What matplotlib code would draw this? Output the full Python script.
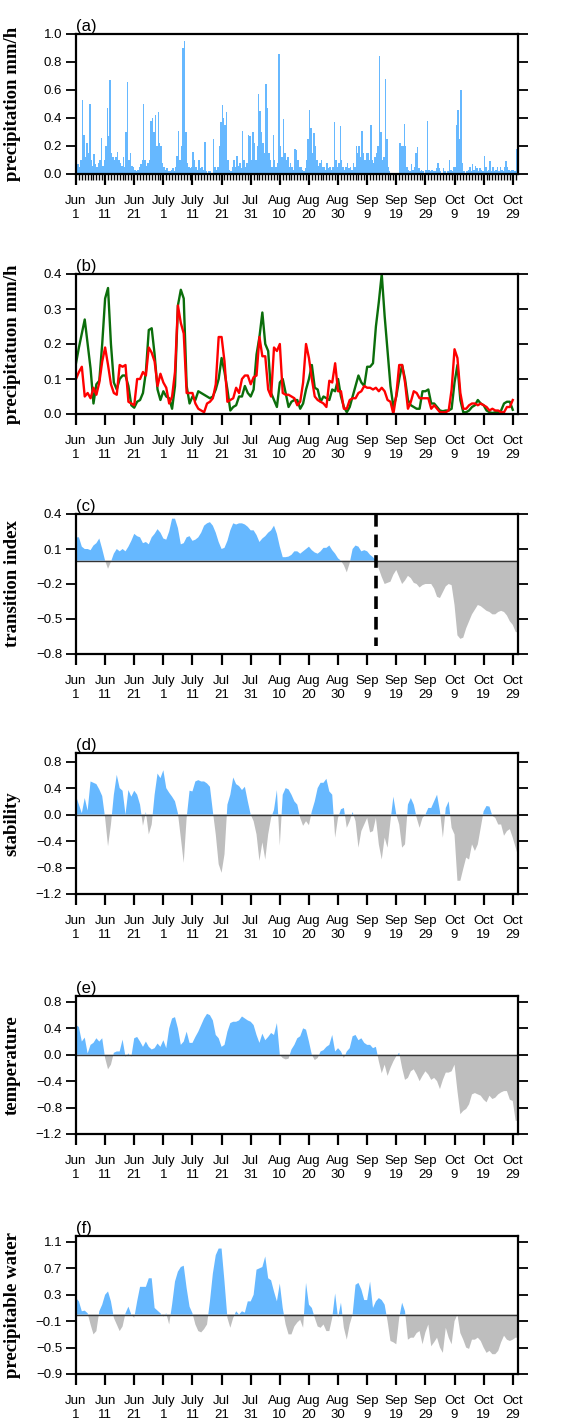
import numpy as np
import matplotlib
matplotlib.use('Agg')
import matplotlib.pyplot as plt
from matplotlib.ticker import MultipleLocator, FuncFormatter

# days since Jun 1
tick_days = [0, 10, 20, 30, 40, 50, 60, 70, 80, 90, 100, 110, 120, 130, 140, 150]
tick_labels = ['Jun\n1', 'Jun\n11', 'Jun\n21', 'July\n1', 'July\n11', 'Jul\n21', 'Jul\n31',
               'Aug\n10', 'Aug\n20', 'Aug\n30', 'Sep\n9', 'Sep\n19', 'Sep\n29', 'Oct\n9',
               'Oct\n19', 'Oct\n29']

# (a) precipitation, two values per day
rain_halfday = [
    0.03, 0.07, 0.05, 0.1, 0.53, 0.28, 0.12, 0.22, 0.15, 0.5, 0.1, 0.06, 0.14, 0.07, 0.05, 0.08, 0.1, 0.26, 0.06, 0.1,
    0.2, 0.47, 0.27, 0.67, 0.15, 0.12, 0.1, 0.12, 0.16, 0.1, 0.08, 0.06, 0.12, 0.05, 0.3, 0.66, 0.1, 0.15, 0.06, 0.05,
    0.03, 0.02, 0.03, 0.05, 0.07, 0.1, 0.5, 0.1, 0.06, 0.08, 0.1, 0.38, 0.4, 0.3, 0.42, 0.2, 0.44, 0.22, 0.2, 0.08,
    0.05, 0.03, 0.04, 0.02, 0.02, 0.03, 0.04, 0.02, 0.05, 0.13, 0.31, 0.1, 0.2, 0.9, 0.95, 0.3, 0.08, 0.05, 0.04, 0.05,
    0.16, 0.1, 0.05, 0.03, 0.1, 0.04, 0.05, 0.03, 0.23, 0.02, 0.01, 0.02, 0.02, 0.01, 0.25, 0.05, 0.03, 0.05, 0.2, 0.37,
    0.49, 0.4, 0.35, 0.44, 0.1, 0.03, 0.02, 0.05, 0.1, 0.05, 0.13, 0.06, 0.08, 0.04, 0.31, 0.1, 0.05, 0.08, 0.28, 0.27,
    0.1, 0.3, 0.22, 0.1, 0.2, 0.57, 0.45, 0.3, 0.22, 0.15, 0.64, 0.47, 0.15, 0.1, 0.05, 0.28, 0.1, 0.05, 0.08, 0.86,
    0.2, 0.12, 0.39, 0.15, 0.1, 0.12, 0.05, 0.08, 0.05, 0.03, 0.18, 0.17, 0.1, 0.05, 0.05, 0.03, 0.02, 0.04, 0.1, 0.25,
    0.46, 0.33, 0.15, 0.29, 0.2, 0.1, 0.06, 0.08, 0.1, 0.05, 0.05, 0.03, 0.08, 0.04, 0.05, 0.03, 0.05, 0.37, 0.1, 0.05,
    0.08, 0.34, 0.1, 0.05, 0.03, 0.05, 0.08, 0.04, 0.05, 0.03, 0.08, 0.05, 0.2, 0.15, 0.2, 0.12, 0.31, 0.15, 0.1, 0.15,
    0.15, 0.1, 0.35, 0.1, 0.08, 0.12, 0.15, 0.2, 0.84, 0.3, 0.1, 0.12, 0.68, 0.25, 0.05, 0.02, 0.01, 0.01, 0.01, 0.01,
    0.01, 0.01, 0.22, 0.2, 0.2, 0.36, 0.2, 0.05, 0.03, 0.02, 0.07, 0.03, 0.05, 0.15, 0.19, 0.04, 0.02, 0.03, 0.02, 0.01,
    0.03, 0.38, 0.03, 0.02, 0.03, 0.02, 0.02, 0.04, 0.08, 0.04, 0.02, 0.01, 0.04, 0.02, 0.01, 0.02, 0.1, 0.03, 0.02, 0.05,
    0.05, 0.35, 0.46, 0.25, 0.6, 0.08, 0.02, 0.01, 0.02, 0.03, 0.05, 0.02, 0.07, 0.03, 0.06, 0.04, 0.02, 0.04, 0.03, 0.02,
    0.13, 0.05, 0.02, 0.03, 0.09, 0.02, 0.05, 0.02, 0.03, 0.05, 0.02, 0.05, 0.03, 0.02, 0.05, 0.09, 0.05, 0.03, 0.02, 0.03,
    0.03, 0.02, 0.18, 0.05, 0.03, 0.02,
]

# (b) daily precipitation, two series
rain_green = [
    0.145, 0.19, 0.23, 0.27, 0.2, 0.13, 0.03, 0.085, 0.095, 0.2,
    0.33, 0.36, 0.2, 0.09, 0.07, 0.1, 0.11, 0.11, 0.08, 0.025,
    0.018, 0.035, 0.04, 0.06, 0.12, 0.24, 0.245, 0.17, 0.07, 0.04,
    0.065, 0.05, 0.045, 0.015, 0.08, 0.31, 0.355, 0.33, 0.08, 0.03,
    0.05, 0.04, 0.065, 0.06, 0.055, 0.05, 0.045, 0.05, 0.07, 0.1,
    0.16, 0.12, 0.07, 0.01, 0.02, 0.025, 0.05, 0.05, 0.08, 0.06,
    0.05, 0.07, 0.17, 0.22, 0.29, 0.2, 0.18, 0.06, 0.04, 0.02,
    0.09, 0.1, 0.06, 0.02, 0.035, 0.04, 0.04, 0.015, 0.03, 0.07,
    0.1, 0.14, 0.075, 0.07, 0.035, 0.05, 0.045, 0.04, 0.07, 0.065,
    0.1, 0.05, 0.02, 0.005, 0.02, 0.05, 0.08, 0.11, 0.09, 0.08,
    0.135, 0.135, 0.145, 0.25, 0.32, 0.4, 0.28, 0.18, 0.08, 0.02,
    0.05, 0.1, 0.14, 0.1, 0.04, 0.025, 0.02, 0.015, 0.015, 0.065,
    0.065, 0.07, 0.03, 0.03, 0.02, 0.01, 0.008, 0.01, 0.01, 0.015,
    0.09, 0.14, 0.04, 0.005, 0.005, 0.01, 0.02, 0.025, 0.04, 0.03,
    0.025, 0.01, 0.005, 0.003, 0.005, 0.005, 0.01, 0.03, 0.035, 0.035,
    0.012,
]
rain_red = [
    0.1, 0.12, 0.135, 0.05, 0.06, 0.045, 0.075, 0.055, 0.09, 0.15,
    0.19, 0.14, 0.085, 0.06, 0.055, 0.14, 0.135, 0.14, 0.035, 0.03,
    0.025, 0.1, 0.1, 0.12, 0.11, 0.19, 0.175, 0.15, 0.08, 0.115,
    0.09, 0.075, 0.03, 0.05, 0.12, 0.31, 0.26, 0.23, 0.06, 0.06,
    0.06, 0.03, 0.015, 0.01, 0.005, 0.03, 0.035, 0.045, 0.085, 0.22,
    0.22, 0.15, 0.035, 0.04, 0.045, 0.075, 0.06, 0.1, 0.11, 0.11,
    0.085, 0.105, 0.11, 0.22, 0.165, 0.165, 0.07, 0.05, 0.19, 0.18,
    0.2, 0.06, 0.055, 0.055, 0.05, 0.045, 0.025, 0.035, 0.09, 0.2,
    0.16, 0.1, 0.05, 0.04, 0.035, 0.03, 0.02, 0.095, 0.09, 0.145,
    0.065, 0.065, 0.015, 0.015, 0.04, 0.045, 0.045, 0.06, 0.065, 0.08,
    0.075, 0.075, 0.07, 0.075, 0.065, 0.075, 0.065, 0.04, 0.035, 0.0,
    0.055, 0.14, 0.14, 0.09, 0.015, 0.035, 0.065, 0.06, 0.045, 0.045,
    0.045, 0.045, 0.015, 0.025, 0.015, 0.005, 0.005, 0.005, 0.01, 0.07,
    0.185, 0.16, 0.06, 0.015, 0.015, 0.025, 0.03, 0.03, 0.025, 0.03,
    0.025, 0.02, 0.01, 0.015, 0.01, 0.01, 0.005, 0.005, 0.02, 0.02,
    0.04,
]

# (c)-(f) daily anomalies
transition = [
    0.2, 0.2, 0.12, 0.1, 0.1, 0.09, 0.13, 0.15, 0.19, 0.1,
    0.0, -0.07, -0.01, 0.06, 0.1, 0.08, 0.1, 0.08, 0.12, 0.17,
    0.23, 0.21, 0.2, 0.15, 0.16, 0.14, 0.2, 0.23, 0.27, 0.24,
    0.19, 0.18, 0.25, 0.36, 0.36, 0.28, 0.14, 0.15, 0.2, 0.21,
    0.17, 0.18, 0.2, 0.24, 0.3, 0.32, 0.33, 0.3, 0.24, 0.16,
    0.1, 0.11, 0.17, 0.26, 0.32, 0.31, 0.32, 0.32, 0.31, 0.29,
    0.26, 0.26, 0.22, 0.16, 0.19, 0.21, 0.24, 0.26, 0.3, 0.23,
    0.12, 0.03, 0.03, 0.035, 0.05, 0.08, 0.08, 0.06, 0.08, 0.1,
    0.12, 0.09, 0.07, 0.06, 0.08, 0.11, 0.11, 0.13, 0.09, 0.06,
    0.02, 0.0, -0.04, -0.1, -0.02, 0.1, 0.13, 0.12, 0.08, 0.09,
    0.08, 0.05, 0.03, 0.0, -0.07, -0.14, -0.2, -0.19, -0.18, -0.12,
    -0.08, -0.14, -0.2, -0.17, -0.13, -0.15, -0.19, -0.2, -0.23, -0.21,
    -0.2, -0.2, -0.2, -0.24, -0.31, -0.32, -0.27, -0.22, -0.2, -0.21,
    -0.38, -0.64, -0.67, -0.66, -0.58, -0.52, -0.46, -0.42, -0.38, -0.39,
    -0.41, -0.43, -0.44, -0.46, -0.46, -0.44, -0.43, -0.44, -0.47, -0.52,
    -0.55, -0.61, -0.62,
]
stability = [
    0.28, 0.15, 0.02, 0.25, 0.06, 0.5, 0.48, 0.46, 0.38, 0.28,
    -0.05, -0.48, -0.15, 0.3, 0.6, 0.4, 0.36, 0.0, 0.37, 0.27,
    0.36, 0.3, 0.15, -0.17, 0.04, -0.3, -0.15, 0.3, 0.62, 0.55,
    0.67, 0.4, 0.33, 0.27, 0.2, 0.02, -0.35, -0.73, -0.05, 0.36,
    0.35, 0.5, 0.52, 0.5, 0.5, 0.47, 0.42, 0.05, -0.3, -0.75,
    -0.88, -0.6, 0.15, 0.3, 0.56, 0.46, 0.43, 0.37, 0.42, 0.2,
    0.0, -0.1, -0.3, -0.7, -0.42, -0.68, -0.3, -0.05, 0.07, 0.37,
    -0.47, 0.3, 0.4, 0.38, 0.3, 0.2, 0.15, -0.05, -0.17, -0.1,
    -0.16, 0.05, 0.2, 0.4, 0.48, 0.48, 0.54, 0.35, 0.3, -0.35,
    -0.05, 0.08, 0.1, -0.2, -0.1, 0.04, -0.1, -0.5, -0.25, -0.15,
    -0.05, -0.27, -0.25, -0.05, -0.45, -0.68, -0.35, -0.5, -0.1, 0.27,
    0.0, -0.15, -0.5, -0.45, 0.15, 0.25, 0.15, -0.05, -0.2, -0.05,
    0.0, 0.1, 0.1, 0.2, 0.3, 0.05, -0.35, 0.1, 0.2, -0.2,
    -0.3, -1.0, -1.0, -0.82, -0.65, -0.68, -0.45, -0.55, -0.45, -0.2,
    0.05, 0.13, 0.12, -0.02, -0.05, -0.15, -0.15, -0.32, -0.25, -0.22,
    -0.35, -0.5, -0.65,
]
temperature = [
    0.45, 0.42, 0.2, 0.26, 0.02, 0.15, 0.18, 0.25, 0.2, 0.25,
    -0.05, -0.22, -0.15, 0.03, 0.05, 0.05, 0.23, -0.03, 0.02, -0.03,
    0.25, 0.27, 0.2, 0.12, 0.2, 0.12, 0.08, 0.1, 0.17, 0.12,
    0.22, 0.1, 0.4, 0.55, 0.57, 0.4, 0.15, 0.2, 0.35, 0.18,
    0.18, 0.27, 0.35, 0.45, 0.55, 0.62, 0.6, 0.52, 0.3, 0.25,
    0.12, 0.15, 0.35, 0.48, 0.5, 0.5, 0.52, 0.58, 0.55, 0.52,
    0.5, 0.45, 0.3, 0.18, 0.32, 0.22, 0.27, 0.33, 0.3, 0.48,
    0.0, -0.05, -0.07, -0.06, 0.08, 0.15, 0.25, 0.28, 0.4, 0.38,
    0.2, 0.0, -0.08, -0.05, 0.05, 0.07, 0.12, 0.15, 0.3, 0.05,
    0.1, 0.05, -0.05, 0.05, 0.1, 0.28, 0.3, 0.22, 0.25, 0.18,
    0.15, 0.15, 0.1, 0.12, -0.1, -0.28, -0.15, -0.32, -0.2, -0.1,
    -0.02, 0.03, -0.2, -0.38, -0.35, -0.25, -0.22, -0.3, -0.4, -0.32,
    -0.25, -0.3, -0.38, -0.35, -0.4, -0.52, -0.38, -0.27, -0.27, -0.25,
    -0.15, -0.55, -0.9, -0.85, -0.82, -0.75, -0.6, -0.58, -0.6, -0.62,
    -0.68, -0.72, -0.62, -0.67, -0.65, -0.6, -0.57, -0.55, -0.55, -0.68,
    -0.7, -1.0, -1.0,
]
precip_water = [
    0.25, 0.2, 0.05, 0.06, 0.02, -0.15, -0.3, -0.25, 0.05, 0.15,
    0.3, 0.35, 0.2, -0.05, -0.15, -0.25, -0.18, 0.02, 0.12, 0.0,
    -0.05, 0.2, 0.42, 0.42, 0.42, 0.55, 0.55, 0.1, 0.06, 0.02,
    -0.03, 0.02, -0.15, 0.15, 0.5, 0.65, 0.72, 0.74, 0.4, 0.12,
    0.02, -0.15, -0.25, -0.27, -0.22, -0.15, 0.2, 0.62, 0.9, 1.0,
    1.0, 0.5, -0.05, -0.2, -0.05, 0.05, 0.0, 0.05, 0.03, 0.2,
    0.2, 0.3, 0.68, 0.7, 0.72, 0.88, 0.55, 0.52, 0.35, 0.2,
    0.47, 0.1, -0.15, -0.3, -0.3, -0.18, -0.12, -0.08, -0.2, 0.48,
    0.15, 0.1, -0.05, -0.18, -0.2, -0.15, -0.25, -0.25, -0.05, 0.32,
    -0.05, 0.18, -0.2, -0.38, -0.15, 0.0, 0.45, 0.48, 0.38, 0.22,
    0.22, 0.5, 0.1, 0.2, 0.25, 0.22, 0.15, -0.1, -0.4, -0.42,
    -0.45, -0.05, 0.18, 0.05, -0.38, -0.35, -0.35, -0.28, -0.25, -0.45,
    -0.27, -0.15, -0.48, -0.42, -0.35, -0.5, -0.58, -0.2, -0.35, -0.45,
    -0.1, 0.0, -0.28, -0.38, -0.5, -0.52, -0.38, -0.38, -0.35, -0.4,
    -0.5, -0.58, -0.55, -0.6, -0.6, -0.55, -0.42, -0.32, -0.38, -0.4,
    -0.38, -0.35, -0.35,
]
transition_day = 103.1

BLUE = '#66b8ff'
GREY = '#bebebe'

plt.rcParams['font.family'] = ['Liberation Sans', 'DejaVu Sans']
plt.rcParams['axes.linewidth'] = 1.6

fig = plt.figure(figsize=(5.78, 14.26), dpi=100)

left, width = 76 / 578, 442 / 578
boxes = [(34, 174), (274, 414), (514, 654), (753, 894), (996, 1134), (1236, 1374)]
axes = []
for top, bot in boxes:
    ax = fig.add_axes([left, 1 - bot / 1426, width, (bot - top) / 1426])
    axes.append(ax)

minus_fmt = FuncFormatter(lambda v, pos: ('%.1f' % v).replace('-', '\u2212'))


def style_axis(ax, label, ylabel, yticks, ylim):
    ax.set_xlim(0, 151.8)
    ax.set_ylim(*ylim)
    ax.set_xticks(tick_days)
    ax.set_xticklabels(tick_labels, linespacing=1.25)
    ax.set_yticks(yticks)
    ax.yaxis.set_major_formatter(minus_fmt)
    ax.tick_params(axis='x', direction='out', length=8, width=1.6, pad=7, labelsize=9.5)
    ax.tick_params(axis='y', direction='out', length=7, width=1.3, pad=3, labelsize=9.5,
                   right=True)
    ax.set_ylabel(ylabel, family='Liberation Serif', fontweight='bold', fontsize=13.5)
    ax.yaxis.set_label_coords(-0.125, 0.5)
    ax.text(0.0, 1.0, label, transform=ax.transAxes, ha='left', va='bottom', fontsize=12)


def anomaly_panel(ax, values):
    days = np.arange(len(values))
    v = np.array(values)
    ax.fill_between(days, v, 0, where=v >= 0, interpolate=True, color=BLUE, lw=0)
    ax.fill_between(days, v, 0, where=v <= 0, interpolate=True, color=GREY, lw=0)
    ax.axhline(0, color='#333333', lw=1.0)


# (a)
t = np.arange(len(rain_halfday)) * 0.5 + 0.25
axes[0].bar(t, rain_halfday, width=0.5, color=BLUE, lw=0)
style_axis(axes[0], '(a)', 'precipitation mm/h', [0, 0.2, 0.4, 0.6, 0.8, 1.0], (0, 1.0))
axes[0].xaxis.set_minor_locator(MultipleLocator(1))
axes[0].tick_params(axis='x', which='minor', direction='out', length=4.5, width=1.0)

# (b)
d = np.arange(len(rain_green))
axes[1].plot(d, rain_green, color='#0b6e0b', lw=1.7)
axes[1].plot(d, rain_red, color='#ff0000', lw=1.7)
style_axis(axes[1], '(b)', 'precipitatuon mm/h', [0, 0.1, 0.2, 0.3, 0.4], (0, 0.4))

# (c)
anomaly_panel(axes[2], transition)
axes[2].plot([transition_day, transition_day], [0.4, -0.73], color='black', lw=2.6,
             dashes=(3.5, 2.2))
style_axis(axes[2], '(c)', 'transition index', [-0.8, -0.5, -0.2, 0.1, 0.4], (-0.8, 0.4))

# (d)
anomaly_panel(axes[3], stability)
style_axis(axes[3], '(d)', 'stability', [-1.2, -0.8, -0.4, 0.0, 0.4, 0.8], (-1.2, 0.93))

# (e)
anomaly_panel(axes[4], temperature)
style_axis(axes[4], '(e)', 'temperature', [-1.2, -0.8, -0.4, 0.0, 0.4, 0.8], (-1.2, 0.89))

# (f)
anomaly_panel(axes[5], precip_water)
style_axis(axes[5], '(f)', 'precipitable water', [-0.9, -0.5, -0.1, 0.3, 0.7, 1.1], (-0.9, 1.19))

plt.savefig('out.png', dpi=100)
